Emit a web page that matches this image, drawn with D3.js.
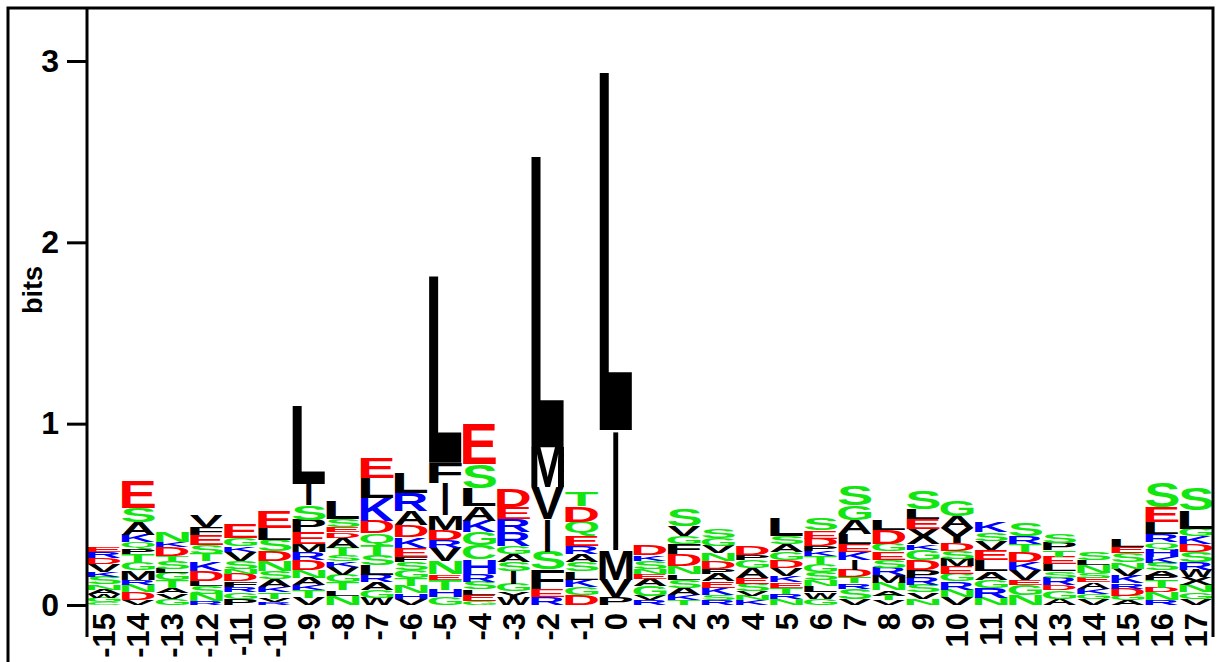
<!DOCTYPE html>
<html>
<head>
<meta charset="utf-8">
<script src="https://cdn.jsdelivr.net/npm/d3@7/dist/d3.min.js"></script>
<style>
  body { margin: 0; background: #fff; }
  text { font-family: "Liberation Sans", Arial, sans-serif; font-weight: bold; }
</style>
</head>
<body>
<svg id="logo" width="1218" height="662"></svg>
<script>
// sequence positions (x tick labels)
const positions = [-15, -14, -13, -12, -11, -10, -9, -8, -7, -6, -5, -4, -3, -2, -1, 0,
  1, 2, 3, 4, 5, 6, 7, 8, 9, 10, 11, 12, 13, 14, 15, 16, 17];

// letters of each stack, read from top to bottom
const stackLetters = [
  "ERDVKSNAWGC", "ESAKQPTGMRNDV", "NKDTSLGTAVG", "VFESTKDLSNR", "EGKVSNDFRGP",
  "ELSDNSAKTVR", "LISPEMRDNAKTV", "LSEDATSKVGTLN", "ELKDQTSLRAGW", "LRADKEFSGTNHV",
  "LFIMDRVNETHG", "ESLAKGCHRSLEG", "DERRGASIGYW", "LMVISFER", "TDQERASLKGD",
  "LIMVP", "DKSNEAGVR", "SVGFDNLSAKT", "SGVNDPAEKSR", "DPGAESVNK",
  "LSAGDVKETRN", "SEDPKTGSNLWG", "SGALEKIDTRSV", "LDGESRMNATV", "SLEXKGDPRSVN",
  "GAYDSMEGRNV", "KSVELAGRN", "SRTDKVEGN", "SPTELSRDGA", "SLNSEAKGV",
  "LESNVKRDGA", "SELRQHKSAPTDNR", "SLGKDSRWXNGV"
];

// letter heights in bits, same order as stackLetters
const stackHeights = [
  [.025, .035, .035, .045, .025, .04, .03, .025, .02, .025, .015],
  [.15, .08, .07, .04, .035, .03, .05, .04, .05, .03, .04, .04, .03],
  [.055, .03, .05, .03, .04, .025, .04, .04, .03, .03, .035],
  [.065, .045, .055, .05, .04, .05, .055, .03, .045, .04, .02],
  [.08, .045, .03, .05, .045, .03, .04, .03, .03, .035, .035],
  [.09, .065, .065, .055, .055, .045, .04, .03, .035, .02, .015],
  [.43, .12, .08, .07, .065, .045, .04, .055, .045, .04, .03, .04, .04],
  [.095, .045, .03, .03, .055, .04, .035, .03, .045, .04, .045, .03, .05],
  [.11, .11, .125, .07, .065, .055, .055, .055, .04, .045, .04, .04],
  [.115, .095, .08, .065, .06, .05, .03, .045, .04, .045, .04, .03, .035],
  [1.03, .115, .175, .08, .055, .045, .075, .07, .03, .055, .04, .045],
  [.215, .13, .1, .08, .065, .07, .08, .08, .045, .04, .03, .035, .02],
  [.10, .065, .07, .08, .045, .045, .05, .07, .04, .035, .04],
  [1.605, .22, .175, .18, .1, .11, .04, .045],
  [.075, .085, .08, .055, .045, .045, .05, .045, .04, .045, .055],
  [1.975, .66, .165, .095, .045],
  [.055, .03, .045, .03, .025, .04, .055, .025, .025],
  [.095, .055, .045, .055, .065, .045, .03, .045, .04, .03, .025],
  [.05, .045, .04, .04, .045, .03, .04, .035, .04, .03, .025],
  [.05, .03, .04, .055, .035, .04, .025, .025, .025],
  [.095, .045, .045, .04, .045, .045, .035, .03, .035, .025, .035],
  [.065, .045, .04, .03, .025, .045, .045, .04, .035, .035, .035, .035],
  [.11, .08, .08, .055, .04, .045, .055, .04, .035, .03, .055, .035],
  [.055, .08, .04, .045, .045, .04, .045, .04, .03, .025, .025],
  [.1, .055, .055, .085, .03, .055, .055, .045, .04, .04, .035, .035],
  [.085, .065, .085, .04, .045, .04, .045, .04, .045, .04, .045],
  [.055, .045, .05, .055, .065, .045, .045, .055, .04],
  [.075, .045, .045, .055, .04, .055, .03, .055, .055],
  [.05, .04, .035, .04, .04, .035, .04, .03, .045, .035],
  [.045, .03, .045, .025, .025, .035, .03, .025, .035],
  [.04, .035, .05, .035, .04, .04, .03, .04, .025, .025],
  [.135, .085, .065, .045, .04, .04, .035, .04, .03, .025, .04, .025, .045, .025],
  [.12, .1, .04, .045, .045, .055, .04, .04, .045, .04, .035, .035]
];

const yTicks = [0, 1, 2, 3];

const colorOf = ch => {
  if ("DE".includes(ch)) return "#ff0000";
  if ("GSTNQC".includes(ch)) return "#11e611";
  if ("KRH".includes(ch)) return "#0000ff";
  return "#000000";
};

const svg = d3.select("#logo");

const x = d3.scaleBand().domain(positions).range([87, 1213]);
const y = d3.scaleLinear().domain([0, 3]).range([605, 61]);

// ink metrics of each glyph so letters can be stretched to fill their box
const ctx = document.createElement("canvas").getContext("2d");
ctx.font = 'bold 100px "Liberation Sans"';
const inkCache = {};
const ink = ch => {
  if (!inkCache[ch]) {
    const m = ctx.measureText(ch);
    inkCache[ch] = { l: m.actualBoundingBoxLeft, r: m.actualBoundingBoxRight,
                     a: m.actualBoundingBoxAscent, d: m.actualBoundingBoxDescent };
  }
  return inkCache[ch];
};

// build stacks (bottom to top)
const glyphs = [];
positions.forEach((p, i) => {
  const letters = stackLetters[i].split("").reverse();
  const heights = stackHeights[i].slice().reverse();
  let base = 0;
  letters.forEach((ch, j) => {
    glyphs.push({ pos: p, ch, y0: base, y1: base + heights[j] });
    base += heights[j];
  });
});

const bw = x.bandwidth();
svg.append("g").selectAll("text")
  .data(glyphs)
  .join("text")
  .attr("font-size", 100)
  .attr("fill", d => colorOf(d.ch))
  .attr("transform", d => {
    const m = ink(d.ch);
    const w = d.ch === "I" ? bw * 0.16 : bw - 1;
    const left = x(d.pos) + (bw - w) / 2;
    const top = y(d.y1);
    const h = y(d.y0) - y(d.y1);
    const sx = w / (m.l + m.r), sy = h / (m.a + m.d);
    return `translate(${left},${top}) scale(${sx},${sy}) translate(${m.l},${m.a})`;
  })
  .text(d => d.ch);

// outer frame
svg.append("path")
  .attr("d", "M8,662V8H1213V637")
  .attr("fill", "none").attr("stroke", "#000").attr("stroke-width", 3);

// y axis
const yAxis = svg.append("g")
  .attr("transform", "translate(87,0)")
  .call(d3.axisLeft(y).tickValues(yTicks).tickFormat(d3.format("d"))
    .tickSize(20).tickPadding(8).tickSizeOuter(0));
yAxis.select(".domain").remove();
yAxis.selectAll("line").attr("stroke-width", 3);
yAxis.selectAll("text").attr("font-size", 32).attr("fill", "#000")
  .style("font-family", '"Liberation Sans", Arial, sans-serif').style("font-weight", "bold");
svg.append("line")
  .attr("x1", 87).attr("x2", 87).attr("y1", 9).attr("y2", 637)
  .attr("stroke", "#000").attr("stroke-width", 3);

svg.append("text")
  .attr("transform", "translate(42,290) rotate(-90)")
  .attr("text-anchor", "middle")
  .attr("font-size", 27)
  .text("bits");

// x labels, rotated
svg.append("g").selectAll("text")
  .data(positions)
  .join("text")
  .attr("transform", d => `translate(${x(d) + bw / 2},613) rotate(-90)`)
  .attr("text-anchor", "end")
  .attr("dy", "0.36em")
  .attr("font-size", 31)
  .text(d => d);
</script>
</body>
</html>
